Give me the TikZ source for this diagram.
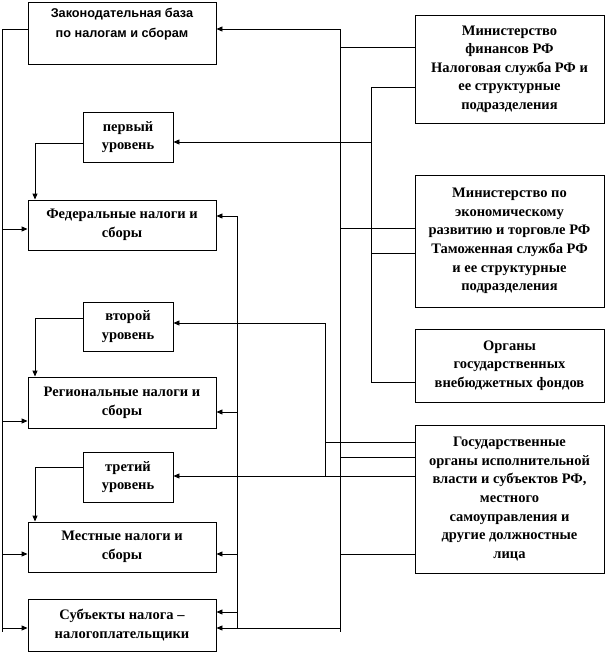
\documentclass[tikz,border=0pt]{standalone}
\usepackage{fontspec}
\setmainfont{Liberation Serif}
\newfontfamily\zakonfont{Liberation Sans}
\usetikzlibrary{arrows.meta}

\begin{document}
\begin{tikzpicture}[x=1pt,y=-1pt,
	box/.style={draw,line width=0.9pt,minimum width=188pt,inner sep=0pt,align=center,
		font=\fontsize{14.5}{18.6}\selectfont\bfseries},
	lvlbox/.style={box,minimum width=90pt,minimum height=50pt},
	orgbox/.style={box,minimum width=189pt},
	link/.style={line width=0.9pt},
	arr/.style={link,-{Triangle[length=6pt,width=5pt]}}]
	\useasboundingbox (0,0) rectangle (607,654);
	
	%left boxes
	\node[box,minimum height=62pt,font=\zakonfont\fontsize{12.7}{20}\selectfont\bfseries] (zakon) at (122,33) {Законодательная база\\по налогам и сборам\\\mbox{}};
	\node[lvlbox] (lvl1) at (128,137) {первый\\уровень};
	\node[box,minimum height=50pt] (fed) at (122,225) {Федеральные налоги и\\сборы};
	\node[lvlbox,minimum height=49pt] (lvl2) at (128,326.5) {второй\\уровень};
	\node[box,minimum height=51pt] (reg) at (122,402.5) {Региональные налоги и\\сборы};
	\node[lvlbox] (lvl3) at (128,477) {третий\\уровень};
	\node[box,minimum height=50pt] (mest) at (122,547) {Местные налоги и\\сборы};
	\node[box,minimum height=52pt] (subj) at (122,625) {Субъекты налога –\\налогоплательщики};
	
	%right boxes
	\node[orgbox,minimum height=108pt] (minfin) at (509.5,69) {Министерство\\финансов РФ\\Налоговая служба РФ и\\ее структурные\\подразделения};
	\node[orgbox,minimum height=132pt] (minec) at (509.5,241) {Министерство по\\экономическому\\развитию и торговле РФ\\Таможенная служба РФ\\и ее структурные\\подразделения};
	\node[orgbox,minimum height=73pt] (fonds) at (509.5,365.5) {Органы\\государственных\\внебюджетных фондов};
	\node[orgbox,minimum height=148pt] (gos) at (509.5,499) {Государственные\\органы исполнительной\\власти и субъектов РФ,\\местного\\самоуправления и\\другие должностные\\лица};
	
	%bus points
	\coordinate (lb0) at (2,29);
	\coordinate (lb1) at (2,229);
	\coordinate (lb2) at (2,421);
	\coordinate (lb3) at (2,554);
	\coordinate (lb4) at (2,628);
	\coordinate (lbend) at (2,632);
	\coordinate (k1) at (35,143);
	\coordinate (k2) at (35,318);
	\coordinate (k3) at (35,467);
	\coordinate (mb1) at (237,216);
	\coordinate (mb2) at (237,412);
	\coordinate (mb3) at (237,554);
	\coordinate (mb4) at (237,612);
	\coordinate (mbend) at (237,628);
	\coordinate (gb0) at (325,323);
	\coordinate (gb1) at (325,442);
	\coordinate (gbend) at (325,476);
	\coordinate (rb0) at (340,29);
	\coordinate (rb1) at (340,47);
	\coordinate (rb2) at (340,228);
	\coordinate (rb3) at (340,457);
	\coordinate (rb4) at (340,554);
	\coordinate (rb5) at (340,628);
	\coordinate (rbend) at (340,632);
	\coordinate (fb0) at (371,87);
	\coordinate (fb1) at (371,142);
	\coordinate (fb2) at (371,253);
	\coordinate (fbend) at (371,382);
	
	%left bus
	\draw[link] (lb0 -| zakon.west) -- (lb0) -- (lbend);
	\draw[arr] (lb1) -- (lb1 -| fed.west);
	\draw[arr] (lb2) -- (lb2 -| reg.west);
	\draw[arr] (lb3) -- (lb3 -| mest.west);
	\draw[arr] (lb4) -- (lb4 -| subj.west);
	
	%levels
	\draw[arr] (k1 -| lvl1.west) -- (k1) -- (k1 |- fed.north);
	\draw[arr] (k2 -| lvl2.west) -- (k2) -- (k2 |- reg.north);
	\draw[arr] (k3 -| lvl3.west) -- (k3) -- (k3 |- mest.north);
	
	%middle bus
	\draw[link] (mbend) -- (mb1);
	\draw[arr] (mb1) -- (mb1 -| fed.east);
	\draw[arr] (mb2) -- (mb2 -| reg.east);
	\draw[arr] (mb3) -- (mb3 -| mest.east);
	\draw[arr] (mb4) -- (mb4 -| subj.east);
	
	%right bus
	\draw[link] (rb0) -- (rbend);
	\draw[arr] (rb0) -- (rb0 -| zakon.east);
	\draw[link] (rb1) -- (rb1 -| minfin.west);
	\draw[link] (rb2) -- (rb2 -| minec.west);
	\draw[link] (rb3) -- (rb3 -| gos.west);
	\draw[link] (rb4) -- (rb4 -| gos.west);
	\draw[arr] (rb5) -- (rb5 -| subj.east);
	
	%funds bus
	\draw[link] (fb0 -| minfin.west) -- (fb0) -- (fbend) -- (fbend -| fonds.west);
	\draw[link] (fb2) -- (fb2 -| minec.west);
	\draw[arr] (fb1) -- (fb1 -| lvl1.east);
	
	%state bodies
	\draw[link] (gb1 -| gos.west) -- (gb1);
	\draw[link] (gbend) -- (gb0);
	\draw[arr] (gb0) -- (gb0 -| lvl2.east);
	\draw[arr] (gbend -| gos.west) -- (gbend -| lvl3.east);
\end{tikzpicture}
\end{document}
